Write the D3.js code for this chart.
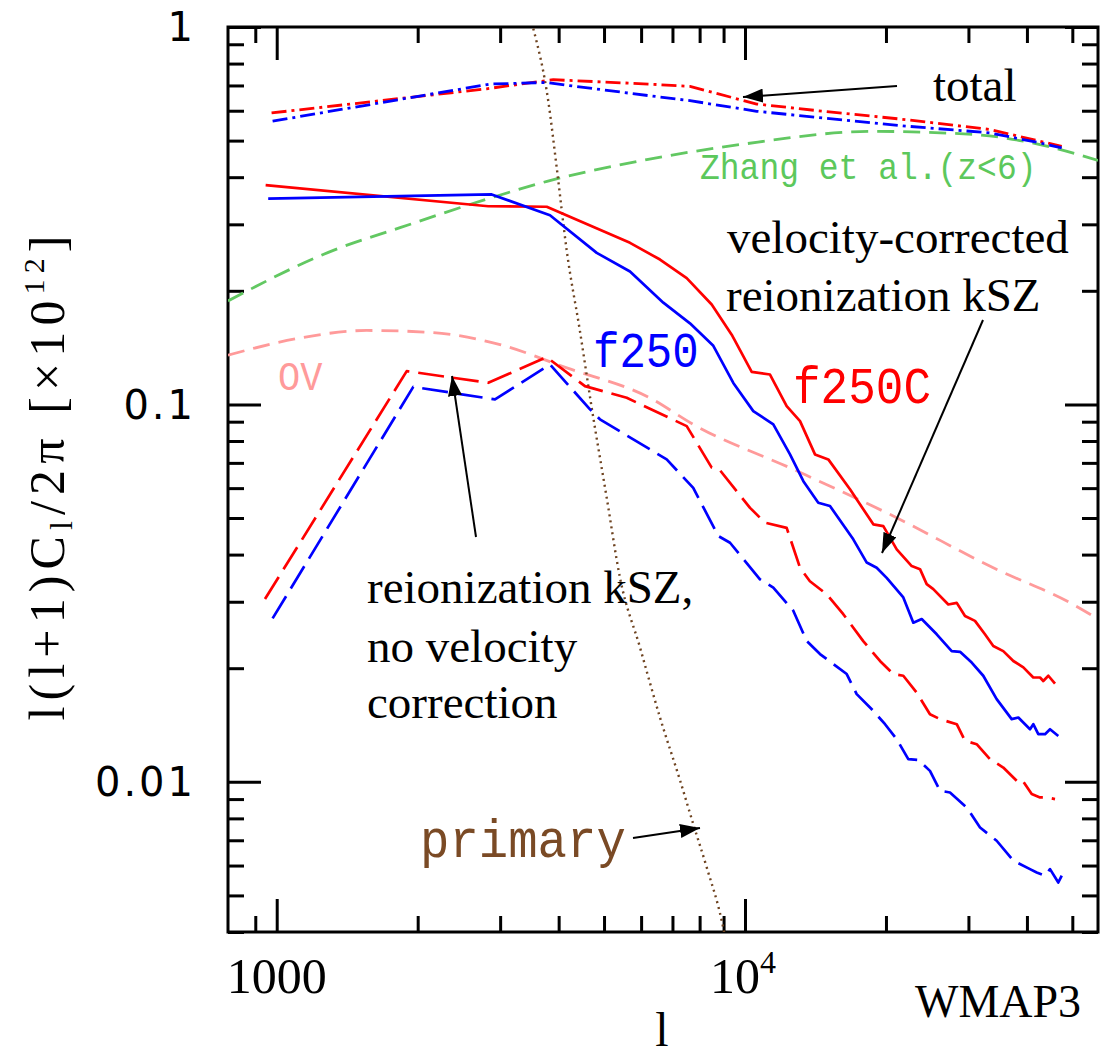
<!DOCTYPE html>
<html><head><meta charset="utf-8">
<script src="https://cdn.jsdelivr.net/npm/d3@7"></script>
<style>body{margin:0;background:#fff} svg{display:block}</style>
</head><body>
<svg id="chart" width="1106" height="1057"></svg>
<script>
// ---------- data ----------
const totalRedL = [975, 2808, 3896, 6216, 7629, 10593, 14698, 22147, 33370, 42660, 47460];
const totalRedV = [0.592, 0.686, 0.725, 0.706, 0.696, 0.625, 0.598, 0.568, 0.535, 0.498, 0.483];
const totalBlueL = [980, 2855, 3772, 4163, 6216, 7629, 10593, 14698, 22147, 33370, 42660, 47460];
const totalBlueV = [0.563, 0.706, 0.713, 0.701, 0.658, 0.638, 0.598, 0.574, 0.546, 0.524, 0.493, 0.478];

const f250CL = [947, 2830, 3772, 5681, 6584, 7508, 8490, 9367, 10335, 11308, 12274, 13108, 14108, 15062, 16758, 18793, 19741, 21086, 22699, 23645, 24434, 25241, 27175, 28326, 29499, 30981, 32540, 33900, 35605, 37410, 39300, 41270, 42660, 43350, 44440, 45920];
const f250CV = [0.381, 0.335, 0.334, 0.268, 0.242, 0.216, 0.184, 0.153, 0.122, 0.120, 0.099, 0.0903, 0.0737, 0.0715, 0.0596, 0.0481, 0.0476, 0.0413, 0.0373, 0.0366, 0.0334, 0.0324, 0.0295, 0.0298, 0.0275, 0.0267, 0.0246, 0.0229, 0.0222, 0.0209, 0.0201, 0.0189, 0.0189, 0.0185, 0.0191, 0.0182];

const f250L = [959, 2878, 3833, 4824, 5681, 6692, 7629, 8558, 9441, 10416, 11493, 12477, 13324, 14338, 15187, 17030, 18195, 19108, 20070, 21780, 22880, 23840, 25670, 27630, 28790, 30490, 32270, 34470, 37110, 38340, 40610, 41270, 42300, 43720, 44810, 46670];
const f250V = [0.351, 0.360, 0.317, 0.252, 0.225, 0.186, 0.164, 0.143, 0.114, 0.096, 0.0885, 0.0737, 0.0626, 0.0549, 0.0538, 0.0439, 0.0381, 0.0369, 0.0347, 0.0308, 0.0264, 0.0270, 0.0246, 0.0222, 0.0221, 0.0207, 0.0191, 0.01656, 0.01466, 0.0148, 0.01378, 0.01421, 0.01337, 0.01337, 0.01378, 0.01323];

const f250CnvL = [944, 1895, 2830, 3772, 4552, 5590, 7508, 8490, 8843, 10250, 11030, 12274, 13108, 13760, 14943, 16213, 17886, 19420, 20730, 21780, 23260, 24830, 26090, 28326, 29499, 31240, 33370, 35605, 38040, 38970, 40950, 42660, 44090, 45920];
const f250CnvV = [0.0305, 0.1225, 0.1141, 0.1334, 0.1118, 0.1041, 0.0876, 0.0680, 0.0669, 0.0532, 0.0486, 0.0471, 0.0369, 0.0340, 0.0314, 0.0278, 0.0236, 0.0209, 0.0193, 0.0191, 0.01724, 0.0151, 0.01466, 0.01421, 0.01284, 0.01258, 0.01148, 0.01091, 0.01006, 0.01016, 0.00928, 0.00909, 0.00909, 0.0090];

const f250nvL = [980, 1957, 2925, 3833, 4667, 4901, 6804, 7753, 8770, 9290, 10764, 11493, 12680, 13546, 14460, 16490, 17320, 18650, 19910, 21086, 22320, 23440, 24830, 26090, 27400, 29750, 31760, 34470, 37410, 40610, 41970, 43720, 44810, 46670, 47830];
const f250nvV = [0.0271, 0.1113, 0.1031, 0.1276, 0.0970, 0.0913, 0.0715, 0.0601, 0.0448, 0.0430, 0.0344, 0.0327, 0.0284, 0.0236, 0.0218, 0.0193, 0.01707, 0.01557, 0.01421, 0.01297, 0.01148, 0.01143, 0.01069, 0.00947, 0.00937, 0.00855, 0.00757, 0.00698, 0.00618, 0.00587, 0.00575, 0.00564, 0.00587, 0.00541, 0.00575];

const zhangL = [787, 1321, 1834, 2855, 3778, 6168, 9757, 18770, 30730, 42660, 56730];
const zhangV = [0.188, 0.256, 0.294, 0.352, 0.390, 0.445, 0.488, 0.529, 0.519, 0.488, 0.443];

const ovL = [787, 1121, 1557, 2160, 2999, 4163, 6268, 7753, 12680, 20730, 33900, 50230, 56730];
const ovV = [0.135, 0.150, 0.157, 0.155, 0.144, 0.125, 0.104, 0.0885, 0.0673, 0.0506, 0.0369, 0.0295, 0.0270];

const primaryL = [3531, 3802, 3963, 4163, 4443, 4706, 5066, 5409, 5967, 6584, 7264, 7753, 8285, 8916, 9030];
const primaryV = [0.99, 0.635, 0.423, 0.255, 0.156, 0.098, 0.0566, 0.0347, 0.0227, 0.0148, 0.0101, 0.00773, 0.00593, 0.00429, 0.00398];

const xMajor = [1000, 10000];
const xMinor = [900, 2000, 3000, 4000, 5000, 6000, 7000, 8000, 9000, 20000, 30000, 40000, 50000];
const yMajor = [0.01, 0.1, 1];
const yMinor = [0.004, 0.005, 0.006, 0.007, 0.008, 0.009, 0.02, 0.03, 0.04, 0.05, 0.06, 0.07, 0.08, 0.09, 0.2, 0.3, 0.4, 0.5, 0.6, 0.7, 0.8, 0.9];
const yTickLabels = ["0.01", "0.1", "1"];

// ---------- layout ----------
const L = 228, R = 1098, T = 27, B = 932;
const svg = d3.select("#chart");
const x = d3.scaleLog().domain([787, 56730]).range([L, R]);
const y = d3.scaleLog().domain([0.004, 1]).range([B, T]);

const defs = svg.append("defs");
defs.append("clipPath").attr("id", "clip")
  .append("rect").attr("x", L).attr("y", T).attr("width", R - L).attr("height", B - T);
defs.append("marker").attr("id", "ah").attr("viewBox", "0 0 20 14")
  .attr("refX", 20).attr("refY", 7).attr("markerWidth", 20).attr("markerHeight", 14)
  .attr("markerUnits", "userSpaceOnUse").attr("orient", "auto")
  .append("path").attr("d", "M0,0 L20,7 L0,14 z").attr("fill", "#000");

// ---------- axes / ticks ----------
function styleAxis(g) {
  g.select(".domain").remove();
  g.selectAll(".tick line").attr("stroke", "#000").attr("stroke-width", 3);
  g.selectAll(".tick text").remove();
}
svg.append("g").attr("transform", `translate(0,${B})`).call(d3.axisBottom(x).tickValues(xMajor).tickSize(-33).tickFormat("")).call(styleAxis);
svg.append("g").attr("transform", `translate(0,${B})`).call(d3.axisBottom(x).tickValues(xMinor).tickSize(-16).tickFormat("")).call(styleAxis);
svg.append("g").attr("transform", `translate(0,${T})`).call(d3.axisTop(x).tickValues(xMajor).tickSize(-33).tickFormat("")).call(styleAxis);
svg.append("g").attr("transform", `translate(0,${T})`).call(d3.axisTop(x).tickValues(xMinor).tickSize(-16).tickFormat("")).call(styleAxis);
svg.append("g").attr("transform", `translate(${L},0)`).call(d3.axisLeft(y).tickValues(yMajor).tickSize(-33).tickFormat("")).call(styleAxis);
svg.append("g").attr("transform", `translate(${L},0)`).call(d3.axisLeft(y).tickValues(yMinor).tickSize(-16).tickFormat("")).call(styleAxis);
svg.append("g").attr("transform", `translate(${R},0)`).call(d3.axisRight(y).tickValues(yMajor).tickSize(-33).tickFormat("")).call(styleAxis);
svg.append("g").attr("transform", `translate(${R},0)`).call(d3.axisRight(y).tickValues(yMinor).tickSize(-16).tickFormat("")).call(styleAxis);

svg.append("rect").attr("x", L).attr("y", T).attr("width", R - L).attr("height", B - T)
  .attr("fill", "none").attr("stroke", "#000").attr("stroke-width", 3);

// ---------- curves ----------
const plot = svg.append("g").attr("clip-path", "url(#clip)");
function series(ls, vs) { return ls.map((l, i) => [l, vs[i]]); }
const lineLin = d3.line().x(d => x(d[0])).y(d => y(d[1]));
const lineSmooth = d3.line().x(d => x(d[0])).y(d => y(d[1])).curve(d3.curveMonotoneX);

function draw(data, gen, color, width, dash) {
  plot.append("path").datum(data).attr("d", gen).attr("fill", "none")
    .attr("stroke", color).attr("stroke-width", width)
    .attr("stroke-dasharray", dash || null).attr("stroke-linejoin", "round");
}
draw(series(zhangL, zhangV), lineSmooth, "#62c862", 2.8, "17,9");
draw(series(ovL, ovV), lineSmooth, "#ff9a9a", 2.8, "17,9");
draw(series(primaryL, primaryV), lineSmooth, "#6e4320", 2.4, "2,4");
draw(series(totalRedL, totalRedV), lineLin, "#ff0000", 2.8, "15,5,3,5");
draw(series(totalBlueL, totalBlueV), lineLin, "#0000ff", 2.8, "15,5,3,5");
draw(series(f250CL, f250CV), lineLin, "#ff0000", 2.7, null);
draw(series(f250L, f250V), lineLin, "#0000ff", 2.7, null);
draw(series(f250CnvL, f250CnvV), lineLin, "#ff0000", 2.7, "26,9");
draw(series(f250nvL, f250nvV), lineLin, "#0000ff", 2.7, "26,9");

// ---------- tick labels ----------
const serif = "'Liberation Serif', 'Times New Roman', serif";
const mono = "'Liberation Mono', 'Courier New', monospace";
svg.append("text").attr("x", x(1000)).attr("y", 993).attr("text-anchor", "middle")
  .attr("font-family", serif).attr("font-size", 50).text("1000");
const t4 = svg.append("text").attr("x", x(10000) - 2).attr("y", 993).attr("text-anchor", "middle")
  .attr("font-family", serif).attr("font-size", 50);
t4.append("tspan").text("10");
t4.append("tspan").attr("font-size", 32).attr("dy", -20).text("4");

yMajor.forEach((v, i) => {
  svg.append("text").attr("x", 196).attr("y", y(v)).attr("dy", "0.36em")
    .attr("text-anchor", "end").attr("font-family", "'DejaVu Sans', sans-serif")
    .attr("font-size", 40).attr("letter-spacing", 3).text(yTickLabels[i]);
});

// axis titles
svg.append("text").attr("x", 662).attr("y", 1046).attr("text-anchor", "middle")
  .attr("font-family", serif).attr("font-size", 48).text("l");
svg.append("text").attr("x", 915).attr("y", 1017).attr("font-family", serif).attr("font-size", 46).text("WMAP3");

const yt = svg.append("text").attr("transform", "translate(64,478) rotate(-90)").attr("text-anchor", "middle")
  .attr("font-family", serif).attr("font-size", 50).attr("textLength", 485).attr("lengthAdjust", "spacing");
yt.append("tspan").text("l(l+1)C");
yt.append("tspan").attr("font-size", 32).attr("dy", 8).text("l");
yt.append("tspan").attr("dy", -8).text("/2π  [×10");
yt.append("tspan").attr("font-size", 30).attr("dy", -20).text("12");
yt.append("tspan").attr("dy", 20).text("]");

// ---------- annotations ----------
function label(tx, ty, str, font, size, color, sy) {
  svg.append("text").attr("transform", `translate(${tx},${ty}) scale(1,${sy || 1})`)
    .attr("font-family", font).attr("font-size", size).attr("fill", color || "#000").text(str);
}
label(933, 101, "total", serif, 47);
label(700, 179, "Zhang et al.(z<6)", mono, 33, "#5cc85c", 1.12);
label(727, 253, "velocity-corrected", serif, 47);
label(726, 311, "reionization kSZ", serif, 47);
label(593, 367, "f250", mono, 44, "#0000ff", 1.12);
label(793, 403, "f250C", mono, 46, "#ff0000", 1.12);
label(278, 390, "OV", mono, 37, "#ff9a9a", 1.12);
label(367, 603, "reionization kSZ,", serif, 47);
label(367, 662, "no velocity", serif, 47);
label(367, 718, "correction", serif, 47);
label(420, 857, "primary", mono, 49, "#7a4a25", 1.1);

function arrow(x1, y1, x2, y2) {
  svg.append("line").attr("x1", x1).attr("y1", y1).attr("x2", x2).attr("y2", y2)
    .attr("stroke", "#000").attr("stroke-width", 2).attr("marker-end", "url(#ah)");
}
arrow(897, 86, 743, 97);
arrow(983, 320, 882, 553);
arrow(476, 537, 452, 376);
arrow(633, 838, 700, 828);
</script>
</body></html>
